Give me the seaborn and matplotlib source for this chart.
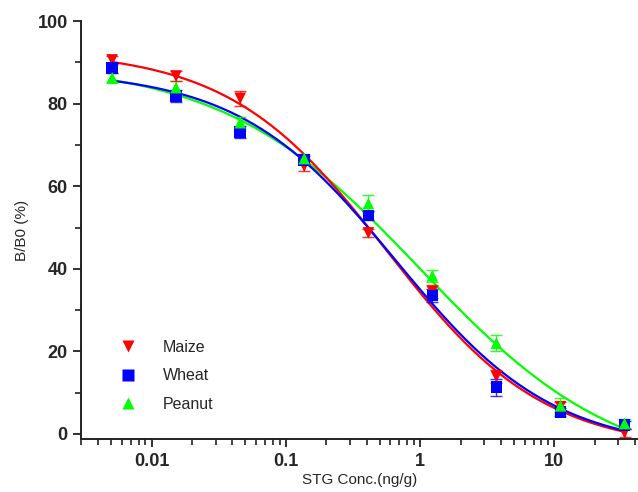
import numpy as np
import pandas as pd
import matplotlib
matplotlib.use('Agg')
import matplotlib.pyplot as plt
import seaborn as sns

# ----- data -----
conc = [0.00508, 0.0152, 0.0457, 0.137, 0.412, 1.235, 3.70, 11.11, 33.33]

maize = [90.6, 86.7, 81.3, 64.9, 48.7, 34.5, 13.9, 6.6, 0.3]
wheat = [88.7, 81.9, 73.1, 66.3, 52.9, 33.5, 11.3, 5.3, 2.2]
peanut = [86.3, 83.9, 75.4, 66.7, 55.8, 38.3, 22.0, 6.8, 2.5]

maize_err = [1.0, 1.2, 1.8, 1.2, 1.0, 1.5, 1.5, 1.2, 1.0]
wheat_err = [1.2, 1.5, 1.5, 1.0, 1.0, 1.5, 2.0, 1.0, 1.0]
peanut_err = [1.2, 1.5, 1.5, 1.0, 2.0, 1.5, 2.0, 2.0, 1.0]

# 4-parameter logistic fit (A top, D bottom, C IC50, B slope)
maize_fit = [93.0, -4.0, 0.56, 0.74]
wheat_fit = [88.0, -4.0, 0.66, 0.74]
peanut_fit = [90.0, -10.0, 1.0, 0.59]

samples = ['Maize', 'Wheat', 'Peanut']
colors = ['#ff0000', '#0000ff', '#00ff00']
markers = ['v', 's', '^']


def logistic(x, p):
    A, D, C, B = p
    return D + (A - D) / (1 + (x / C) ** B)


sns.set_style('ticks')
plt.rcParams['font.family'] = ['Liberation Sans', 'DejaVu Sans']

fig = plt.figure(figsize=(6.38, 4.92), dpi=100)
ax = fig.add_axes([0.127, 0.108, 0.873, 0.849])

xs = np.logspace(np.log10(conc[0]), np.log10(conc[-1]), 200)
points = pd.DataFrame({
    'conc': conc * 3,
    'bb0': maize + wheat + peanut,
    'sample': np.repeat(samples, len(conc)),
})
curves = pd.DataFrame({
    'conc': np.concatenate([xs, xs, xs]),
    'bb0': np.concatenate([logistic(xs, maize_fit), logistic(xs, wheat_fit),
                           logistic(xs, peanut_fit)]),
    'sample': np.repeat(samples, len(xs)),
})

palette = dict(zip(samples, colors))

# fitted curves (peanut under, wheat on top)
for s in ['Peanut', 'Maize', 'Wheat']:
    sns.lineplot(data=curves[curves['sample'] == s], x='conc', y='bb0',
                 color=palette[s], linewidth=1.6, ax=ax, legend=False)

# error bars
for vals, errs, c in [(peanut, peanut_err, colors[2]),
                      (maize, maize_err, colors[0]),
                      (wheat, wheat_err, colors[1])]:
    ax.errorbar(conc, vals, yerr=errs, fmt='none', ecolor=c, elinewidth=1,
                capsize=4, capthick=1, alpha=0.8)

sns.scatterplot(data=points, x='conc', y='bb0', hue='sample', style='sample',
                hue_order=samples, palette=palette,
                markers=dict(zip(samples, markers)), s=70, edgecolor='none',
                ax=ax, zorder=5)

ax.set_xscale('log')
ax.set_xlim(0.00298, 42)
ax.set_ylim(-1.2, 100)
ax.set_yticks([0, 20, 40, 60, 80, 100])
ax.set_yticks([10, 30, 50, 70, 90], minor=True)
ax.set_xticks([0.01, 0.1, 1, 10])
ax.set_xticklabels(['0.01', '0.1', '1', '10'])

for lab in ax.get_xticklabels() + ax.get_yticklabels():
    lab.set_fontweight('bold')
    lab.set_fontsize(13)
ax.tick_params(which='major', length=6, width=1.3, color='#222222')
ax.tick_params(axis='x', which='major', pad=4)
ax.tick_params(which='minor', length=4, width=1.2, color='#222222')

ax.set_xlabel('STG Conc.(ng/g)', fontsize=11, labelpad=2)
ax.set_ylabel('B/B0 (%)', fontsize=11, labelpad=6)

sns.despine(ax=ax)
for sp in ['left', 'bottom']:
    ax.spines[sp].set_linewidth(1.4)
    ax.spines[sp].set_color('#222222')

leg = ax.legend(loc='lower left', bbox_to_anchor=(0.03, 0.03), frameon=False,
                fontsize=11.5, handletextpad=1.2, labelspacing=0.85,
                markerscale=1.0)

fig.savefig('out.png', dpi=100)
